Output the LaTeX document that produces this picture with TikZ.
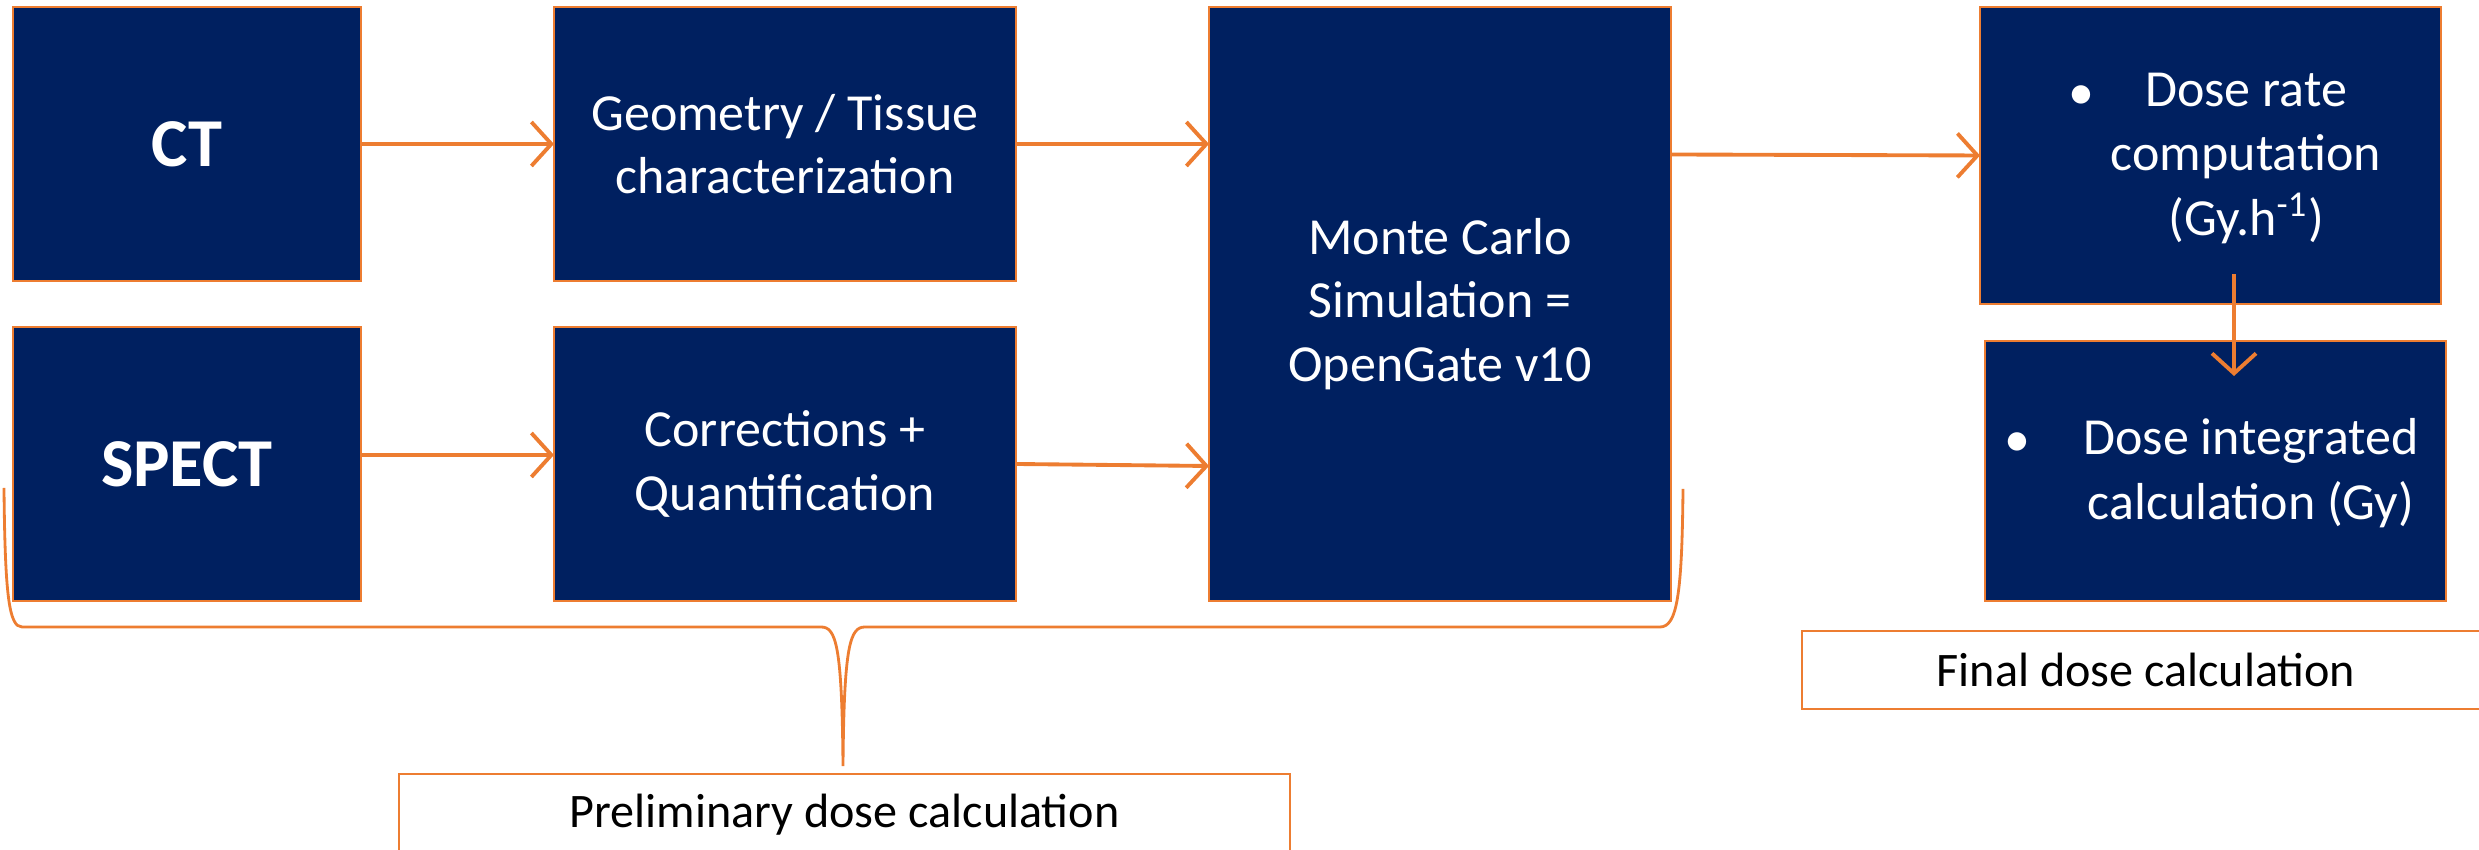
\documentclass[tikz,border=0pt]{standalone}
\usepackage{fontspec}
\setmainfont{Carlito}
\usetikzlibrary{arrows.meta,calc}
\definecolor{navy}{HTML}{002060}
\definecolor{org}{HTML}{ED7D31}
\begin{document}
\begin{tikzpicture}[x=1cm,y=1cm,
  blk/.style={draw=org, fill=navy, line width=0.8pt, text=white, inner sep=0pt, outer sep=0pt, align=center, font=\fontsize{14.8}{18}\selectfont},
  big/.style={font=\fontsize{19.5}{23}\selectfont\bfseries},
  wtxt/.style={text=white, inner sep=0pt, align=center, font=\fontsize{14.8}{18.3}\selectfont},
  lbl/.style={draw=org, fill=white, line width=0.8pt, inner sep=0pt, text=black, font=\fontsize{13.7}{16}\selectfont},
  arr/.style={draw=org, line width=1.1pt, -{Straight Barb[length=2mm,width=4.4mm]}},
  brace/.style={draw=org, line width=0.8pt}
]
\clip (0,0) rectangle (24.79,-8.5);
% main boxes
\node[blk, big, minimum width=3.48cm, minimum height=2.74cm] (ct) at (1.87,-1.44) {CT};
\node[blk, big, minimum width=3.48cm, minimum height=2.74cm] (spect) at (1.87,-4.64) {SPECT};
\node[blk, minimum width=4.62cm, minimum height=2.74cm] (geo) at (7.85,-1.44) {Geometry / Tissue\\characterization};
\node[blk, minimum width=4.62cm, minimum height=2.74cm] (corr) at (7.85,-4.64) {Corrections +\\Quantification};
\node[blk, minimum width=4.62cm, minimum height=5.94cm] (mc) at (14.40,-3.04) {Monte Carlo\\Simulation =\\OpenGate v10};
\node[blk, minimum width=4.61cm, minimum height=2.97cm] (dr) at (22.105,-1.555) {};
\node[blk, minimum width=4.61cm, minimum height=2.60cm] (di) at (22.155,-4.71) {};
% bullet texts
\node[wtxt] (drt) at (22.46,-1.585) {Dose rate\\computation\\(Gy.h\textsuperscript{-1})};
\node[wtxt, anchor=base] (drb) at (20.81,-1.10) {\textbullet};
\node[wtxt] (dit) at (22.51,-4.73) {Dose integrated\\calculation (Gy)};
\node[wtxt, anchor=base] (dib) at (20.17,-4.57) {\textbullet};
% labels
\node[lbl, minimum width=6.88cm, minimum height=0.78cm] (final) at (21.46,-6.70) {Final dose calculation};
\node[lbl, minimum width=8.91cm, minimum height=0.82cm] (prelim) at (8.445,-8.15) {Preliminary dose calculation};
% arrows
\draw[arr] (ct.east) -- (geo.west);
\draw[arr] ([yshift=0.09cm]spect.east) -- ([yshift=0.09cm]corr.west);
\draw[arr] (geo.east) -- (mc.west |- geo.east);
\draw[arr] (corr.east) -- ([yshift=-0.02cm]mc.west |- corr.east);
\draw[arr] ([yshift=0.01cm]mc.east |- dr.west) -- (dr.west);
\coordinate (a1) at (22.34,-2.745);
\coordinate (a2) at (22.34,-3.76);
\draw[arr] (a1) -- (a2);
% brace
\draw[brace] (0.04,-4.88) .. controls (0.05,-5.95) and (0.09,-6.27) .. (0.22,-6.27)
  -- (8.21,-6.27) .. controls (8.36,-6.27) and (8.42,-6.45) .. (8.43,-7.66)
  .. controls (8.44,-6.45) and (8.50,-6.27) .. (8.65,-6.27)
  -- (16.60,-6.27) .. controls (16.77,-6.27) and (16.82,-5.95) .. (16.83,-4.89);
\end{tikzpicture}
\end{document}
